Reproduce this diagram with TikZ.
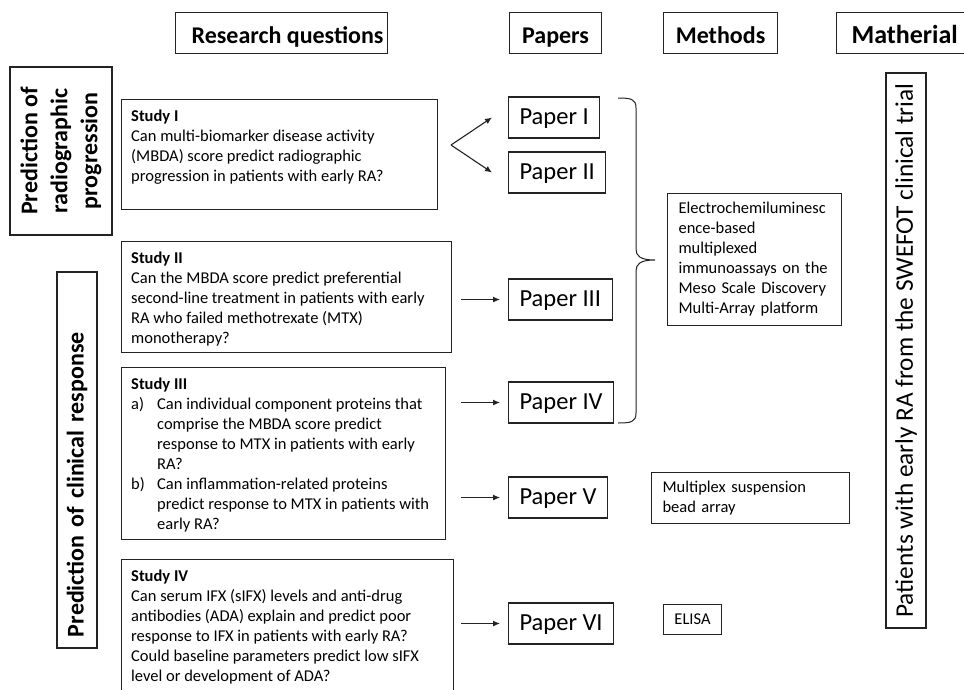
\documentclass[tikz,border=0pt]{standalone}
\usepackage{fontspec}
\setmainfont{Carlito}
\usetikzlibrary{arrows.meta}
\newcommand{\fsS}{\fontsize{16.5}{20}\selectfont}
\newcommand{\fsB}{\fontsize{24}{30}\selectfont}
\newcommand{\fsR}{\fontsize{24.5}{30}\selectfont}
\definecolor{edge}{RGB}{35,35,35}
\begin{document}
\begin{tikzpicture}[x=1pt,y=-1pt,
  box/.style={draw=edge, line width=1.1pt, inner sep=0pt},
  hdr/.style={box, anchor=north west, minimum height=41, text height=20, text depth=0, font=\fsB\bfseries},
  txt/.style={font=\fsS, align=left, inner sep=0pt, anchor=north west},
  paper/.style={box, anchor=west, minimum height=41, inner xsep=11pt, text height=17, text depth=3, font=\fsR},
  meth/.style={box, anchor=north west, font=\fsS, align=left, inner xsep=11pt, inner ysep=0pt},
  arr/.style={draw=edge, line width=1.1pt, -{Latex[length=7pt,width=6pt]}}]
\path[use as bounding box, fill=white] (0,0) rectangle (964,689);
\clip (0,0) rectangle (964,689);

% headers
\node[hdr, minimum width=212] (hrq) at (175,12) {\hspace*{12pt}Research questions};
\node[hdr, minimum width=92] (hpap) at (509,12) {Papers};
\node[hdr, minimum width=114] (hmet) at (663,12) {Methods};
\node[hdr, text width=110, inner xsep=15pt, align=left, font=\fontsize{26}{30}\selectfont\bfseries] (hmat) at (836,12) {Matherial};

% left category boxes
\node[box, rotate=90, minimum width=168, minimum height=102, align=center,
      font=\fontsize{24}{30}\selectfont\bfseries] (lrad) at (61,151)
      {Prediction of\\radiographic\\progression};
\node[box, rotate=90, minimum height=40, text width=354, inner xsep=11pt,
      align=left, font=\fsB\bfseries] (lclin) at (77,460) {Prediction of clinical response};

% study boxes
\node[box, anchor=north west, minimum width=316, minimum height=110] (s1) at (121,99) {};
\node[txt] (s1t) at (131,110) {\textbf{Study I}\\
Can multi-biomarker disease activity\\
(MBDA) score predict radiographic\\
progression in patients with early RA?};

\node[box, anchor=north west, minimum width=330, minimum height=111] (s2) at (121,241) {};
\node[txt] (s2t) at (131,252) {\textbf{Study II}\\
Can the MBDA score predict preferential\\
second-line treatment in patients with early\\
RA who failed methotrexate (MTX)\\
monotherapy?};

\node[box, anchor=north west, minimum width=324, minimum height=172] (s3) at (121,367) {};
\node[txt] (s3t) at (131,378) {\textbf{Study III}\\
\makebox[26pt][l]{a)}Can individual component proteins that\\
\hspace*{26pt}comprise the MBDA score predict\\
\hspace*{26pt}response to MTX in patients with early\\
\hspace*{26pt}RA?\\
\makebox[26pt][l]{b)}Can inflammation-related proteins\\
\hspace*{26pt}predict response to MTX in patients with\\
\hspace*{26pt}early RA?};

\node[box, anchor=north west, minimum width=332, minimum height=150] (s4) at (121,559) {};
\node[txt] (s4t) at (131,570) {\textbf{Study IV}\\
Can serum IFX (sIFX) levels and anti-drug\\
antibodies (ADA) explain and predict poor\\
response to IFX in patients with early RA?\\
Could baseline parameters predict low sIFX\\
level or development of ADA?};

% papers
\node[paper] (p1) at (508,117.5) {Paper I};
\node[paper] (p2) at (508,172.5) {Paper II};
\node[paper] (p3) at (508,299.5) {Paper III};
\node[paper] (p4) at (508,402.5) {Paper IV};
\node[paper] (p5) at (508,497.5) {Paper V};
\node[paper] (p6) at (508,623.5) {Paper VI};

% methods
\node[meth, text width=152, minimum height=132] (m1) at (667,193)
  {Electrochemiluminesc\\ence-based\\multiplexed\\immunoassays on the\\Meso Scale Discovery\\Multi-Array platform};
\node[meth, text width=176, minimum height=51] (m2) at (651,472)
  {Multiplex suspension\\bead array};
\node[box, anchor=north west, minimum width=58, minimum height=30, font=\fsS] (m3) at (663,604) {ELISA};

% material
\node[box, rotate=90, minimum width=555, minimum height=40,
      font=\fontsize{25.3}{30}\selectfont] (mat) at (906,350.5)
      {Patients with early RA from the SWEFOT clinical trial};

% connectors
\coordinate (fork) at (451,145);
\draw[arr] (fork) -- ([xshift=-16pt]p1.west);
\draw[arr] (fork) -- ([xshift=-16pt]p2.west);
\coordinate (ax) at (461,0);
\draw[arr] (ax |- p3.west) -- ([xshift=-8pt]p3.west);
\draw[arr] (ax |- p4.west) -- ([xshift=-8pt]p4.west);
\draw[arr] (ax |- p5.west) -- ([xshift=-8pt]p5.west);
\draw[arr] (ax |- p6.west) -- ([xshift=-8pt]p6.west);

% brace
\coordinate (bt) at (618,98);
\coordinate (bb) at (618,423);
\coordinate (btip) at (655,260);
\draw[draw=edge, line width=1pt]
  (bt) .. controls (631,98) and (636,99) .. (636,108)
  -- (636,249) .. controls (636,256) and (640,260) .. (btip)
  .. controls (640,260) and (636,264) .. (636,271)
  -- (636,413) .. controls (636,422) and (631,423) .. (bb);
\end{tikzpicture}
\end{document}
